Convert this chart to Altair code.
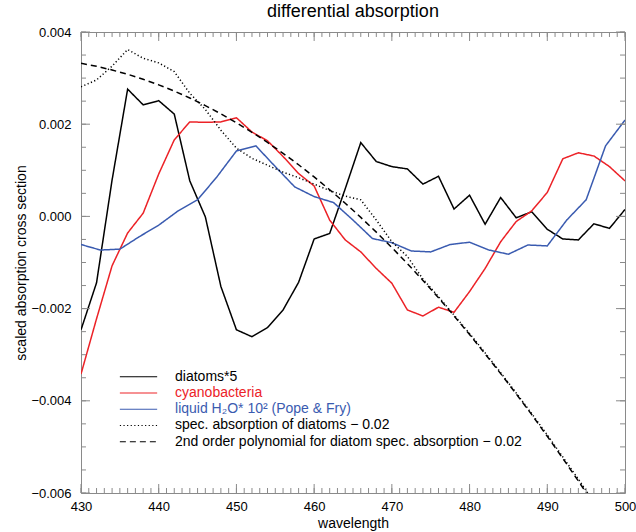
import altair as alt
import pandas as pd

# ---------------- data ----------------
wl_2nm = [430, 432, 434, 436, 438, 440, 442, 444, 446, 448, 450, 452, 454, 456, 458, 460, 462, 464,
          466, 468, 470, 472, 474, 476, 478, 480, 482, 484, 486, 488, 490, 492, 494, 496, 498, 500]

diatoms = [-0.00246, -0.00144, 0.00079, 0.00276, 0.00242, 0.00251, 0.00222, 0.00077, -0.00001,
           -0.00152, -0.00246, -0.00261, -0.00241, -0.00203, -0.00143, -0.00049, -0.00037, 0.00060,
           0.00160, 0.00119, 0.00108, 0.00103, 0.00070, 0.00087, 0.00016, 0.00046, -0.00017, 0.00041,
           -0.00003, 0.00010, -0.00028, -0.00049, -0.00051, -0.00016, -0.00026, 0.00015]

cyano = [-0.00342, -0.00222, -0.00107, -0.00036, 0.00007, 0.00092, 0.00166, 0.00205, 0.00204,
         0.00205, 0.00214, 0.00183, 0.00164, 0.00130, 0.00093, 0.00066, -0.00008, -0.00051,
         -0.00077, -0.00113, -0.00145, -0.00203, -0.00216, -0.00197, -0.00208, -0.00163, -0.00113,
         -0.00055, -0.00011, 0.00012, 0.00052, 0.00125, 0.00138, 0.00131, 0.00108, 0.00077]

wl_water = [430, 432.5, 435, 437.5, 440, 442.5, 445, 447.5, 450, 452.5, 455, 457.5, 460, 462.5, 465,
            467.5, 470, 472.5, 475, 477.5, 480, 482.5, 485, 487.5, 490, 492.5, 495, 497.5, 500]

water = [-0.00061, -0.00073, -0.00071, -0.00044, -0.00019, 0.00012, 0.00036, 0.00086, 0.00142,
         0.00153, 0.00108, 0.00064, 0.00043, 0.00030, -0.00008, -0.00048, -0.00057, -0.00075,
         -0.00077, -0.00061, -0.00056, -0.00073, -0.00082, -0.00062, -0.00064, -0.00008, 0.00036,
         0.00153, 0.00209]

wl_spec = [430, 432, 434, 436, 438, 440, 442, 444, 446, 448, 450, 452, 454, 456, 458, 460, 462, 464,
           466, 468, 470, 472, 474, 476, 478, 480, 482, 484, 486, 488, 490, 492, 494, 496]

spec = [0.00281, 0.00296, 0.00326, 0.00362, 0.00343, 0.00333, 0.00314, 0.00267, 0.00232, 0.00187,
        0.00148, 0.00126, 0.00111, 0.00096, 0.00084, 0.00070, 0.00056, 0.00044, 0.00036, -0.00008,
        -0.00055, -0.00087, -0.00136, -0.00174, -0.00214, -0.00254, -0.00296, -0.00339, -0.00383,
        -0.00428, -0.00474, -0.00522, -0.00570, -0.00620]

poly = [0.00332, 0.003255, 0.003176, 0.003083, 0.002975, 0.002854, 0.002718, 0.002568, 0.002404,
        0.002225, 0.002032, 0.001825, 0.001604, 0.001369, 0.001120, 0.000856, 0.000578, 0.000286,
        -0.000021, -0.000341, -0.000676, -0.001025, -0.001388, -0.001766, -0.002157, -0.002563,
        -0.002983, -0.003410, -0.003850, -0.004300, -0.004770, -0.005250, -0.005740, -0.006240]

names = ["diatoms*5",
         "cyanobacteria",
         "liquid H\u2082O* 10\u00b2 (Pope & Fry)",
         "spec. absorption of diatoms \u2212 0.02",
         "2nd order polynomial for diatom spec. absorption \u2212 0.02"]
colors = ["#000000", "#ec2227", "#3a5bb0", "#000000", "#000000"]
dashes = [[1, 0], [1, 0], [1, 0], [1.2, 2.4], [6, 4]]

x_major = [430, 440, 450, 460, 470, 480, 490, 500]
x_minor = [430 + i for i in range(71)]
y_major = [-0.006, -0.004, -0.002, 0.0, 0.002, 0.004]
y_minor = [round(-0.006 + 0.0005 * i, 4) for i in range(21)]

X_LO, X_HI = 430, 500
Y_LO, Y_HI = -0.006, 0.004
# tick lengths expressed in data units (major ~9 px, minor ~5 px)
XT_MAJ, XT_MIN = 0.000195, 0.000108
YT_MAJ, YT_MIN = 1.16, 0.64

# legend placement in data units (lower-left, inside the frame)
LEG_X0, LEG_X1, LEG_TX = 435.0, 439.8, 442.1
LEG_Y0, LEG_DY = -0.003477, 0.0003525

# ---------------- tables ----------------
rows = []
for w, v in zip(wl_2nm, diatoms):
    rows.append({"wl": w, "v": v, "series": names[0]})
for w, v in zip(wl_2nm, cyano):
    rows.append({"wl": w, "v": v, "series": names[1]})
for w, v in zip(wl_water, water):
    rows.append({"wl": w, "v": v, "series": names[2]})
for w, v in zip(wl_spec, spec):
    rows.append({"wl": w, "v": v, "series": names[3]})
for w, v in zip(wl_spec, poly):
    rows.append({"wl": w, "v": v, "series": names[4]})
df = pd.DataFrame(rows)

leg_df = pd.DataFrame({
    "series": names,
    "x0": [LEG_X0] * len(names),
    "x1": [LEG_X1] * len(names),
    "tx": [LEG_TX] * len(names),
    "ly": [LEG_Y0 - i * LEG_DY for i in range(len(names))],
})

tick_rows = []
for t in x_major:
    tick_rows.append({"x0": t, "x1": t, "y0": Y_LO, "y1": Y_LO + XT_MAJ})
    tick_rows.append({"x0": t, "x1": t, "y0": Y_HI, "y1": Y_HI - XT_MAJ})
for t in x_minor:
    tick_rows.append({"x0": t, "x1": t, "y0": Y_LO, "y1": Y_LO + XT_MIN})
    tick_rows.append({"x0": t, "x1": t, "y0": Y_HI, "y1": Y_HI - XT_MIN})
for t in y_major:
    tick_rows.append({"x0": X_LO, "x1": X_LO + YT_MAJ, "y0": t, "y1": t})
    tick_rows.append({"x0": X_HI, "x1": X_HI - YT_MAJ, "y0": t, "y1": t})
for t in y_minor:
    tick_rows.append({"x0": X_LO, "x1": X_LO + YT_MIN, "y0": t, "y1": t})
    tick_rows.append({"x0": X_HI, "x1": X_HI - YT_MIN, "y0": t, "y1": t})
ticks_df = pd.DataFrame(tick_rows)

FONT = "Liberation Sans"
GRAY = "#8a8a8a"

xs = alt.Scale(domain=[X_LO, X_HI], nice=False, zero=False)
ys = alt.Scale(domain=[Y_LO, Y_HI], nice=False, zero=False)
cs = alt.Scale(domain=names, range=colors)
ds = alt.Scale(domain=names, range=dashes)

x_main = alt.Axis(values=x_major, format="d", labelFontSize=13, labelPadding=7,
                  labelFlush=False, ticks=False, tickSize=0, domain=False, grid=False,
                  title="wavelength", titleFontSize=14, titleFontWeight="normal",
                  titlePadding=3, labelColor="black", titleColor="black")
y_main = alt.Axis(values=y_major, format=".3f", labelFontSize=13, labelPadding=10,
                  labelFlush=False, ticks=False, tickSize=0, domain=False, grid=False,
                  title="scaled absorption cross section", titleFontSize=14,
                  titleFontWeight="normal", titlePadding=2, labelColor="black",
                  titleColor="black")

lines = alt.Chart(df).mark_line(clip=True, strokeWidth=1.5).encode(
    x=alt.X("wl:Q", scale=xs, axis=x_main),
    y=alt.Y("v:Q", scale=ys, axis=y_main),
    color=alt.Color("series:N", scale=cs, legend=None),
    strokeDash=alt.StrokeDash("series:N", scale=ds, legend=None),
)

ticks = alt.Chart(ticks_df).mark_rule(color=GRAY, strokeWidth=1).encode(
    x=alt.X("x0:Q", scale=xs, axis=None),
    x2="x1:Q",
    y=alt.Y("y0:Q", scale=ys, axis=None),
    y2="y1:Q",
)

leg_lines = alt.Chart(leg_df).mark_rule(strokeWidth=1.1).encode(
    x=alt.X("x0:Q", scale=xs, axis=None),
    x2="x1:Q",
    y=alt.Y("ly:Q", scale=ys, axis=None),
    color=alt.Color("series:N", scale=cs, legend=None),
    strokeDash=alt.StrokeDash("series:N", scale=ds, legend=None),
)

leg_text = alt.Chart(leg_df).mark_text(
    align="left", baseline="middle", fontSize=14, font=FONT
).encode(
    x=alt.X("tx:Q", scale=xs, axis=None),
    y=alt.Y("ly:Q", scale=ys, axis=None),
    text="series:N",
    color=alt.Color("series:N", scale=cs, legend=None),
)

chart = alt.layer(
    lines, ticks, leg_lines, leg_text
).resolve_axis(
    x="independent", y="independent"
).properties(
    width=544, height=461,
    autosize="none",
    padding={"left": 81, "top": 32, "right": 11, "bottom": 39},
    title=alt.Title("differential absorption", fontSize=18, fontWeight="normal",
                    anchor="middle", offset=5, color="black", font=FONT),
).configure(
    font=FONT, background="white"
).configure_title(
    fontWeight="normal"
).configure_view(
    stroke=GRAY, strokeWidth=1
)

chart.save("out.html", embed_options={"renderer": "svg", "actions": False})
